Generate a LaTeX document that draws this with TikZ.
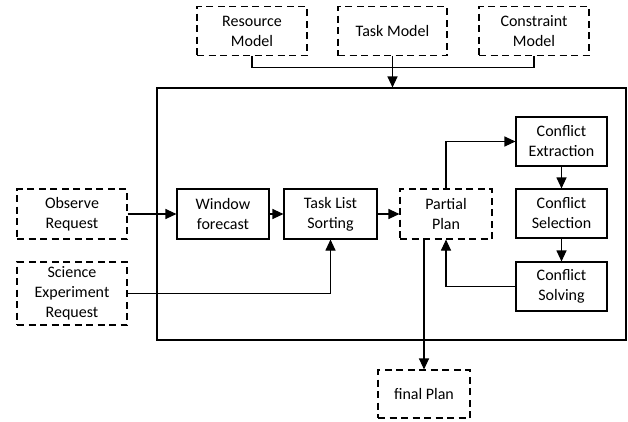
\documentclass[tikz,border=0pt]{standalone}
\usepackage{fontspec}
\setmainfont{Carlito}
\usetikzlibrary{arrows.meta}
\tikzset{
  box/.style={draw, line width=1.1pt, align=center, inner sep=0pt, font=\fontsize{16}{20}\selectfont},
  dbox/.style={box, dash pattern=on 7pt off 4.5pt},
  conn/.style={line width=1.1pt, -{Triangle[length=11pt,width=10pt]}},
  plain/.style={line width=1.1pt}
}
\begin{document}
\begin{tikzpicture}[x=1pt,y=-1pt]
\useasboundingbox (0,0) rectangle (628,421);
% outer frame
\node[draw, line width=1.1pt, minimum width=469pt, minimum height=252pt, inner sep=0pt] (big) at (391.5,214) {};
% models
\node[dbox, minimum width=110pt, minimum height=49pt] (rm) at (252,31) {Resource\\Model};
\node[dbox, minimum width=109pt, minimum height=49pt] (tm) at (392.5,31) {Task Model};
\node[dbox, minimum width=110pt, minimum height=49pt] (cm) at (534,31) {Constraint\\Model};
% requests
\node[dbox, minimum width=110pt, minimum height=50pt] (obs) at (72,214) {Observe\\Request};
\node[dbox, minimum width=110pt, minimum height=63pt] (sci) at (72,293.5) {Science\\Experiment\\Request};
% processing
\node[box, minimum width=92pt, minimum height=50pt] (wf) at (223,214) {Window\\forecast};
\node[box, minimum width=93pt, minimum height=50pt] (tls) at (330.5,214) {Task List\\Sorting};
\node[dbox, minimum width=92pt, minimum height=50pt] (pp) at (446,214) {Partial\\Plan};
\node[box, minimum width=91pt, minimum height=49pt] (ce) at (561.5,141.5) {Conflict\\Extraction};
\node[box, minimum width=91pt, minimum height=49pt] (cs) at (561.5,213.5) {Conflict\\Selection};
\node[box, minimum width=91pt, minimum height=49pt] (cso) at (561.5,286.5) {Conflict\\Solving};
\node[dbox, minimum width=92pt, minimum height=48pt] (fp) at (424,394) {final Plan};
% connectors
\draw[plain] (rm.south) -- ++(0,11) -| (cm.south);
\draw[conn] (tm.south) -- (tm.south |- big.north);
\draw[conn] (obs.east) -- (wf.west);
\draw[conn] (wf.east) -- (tls.west);
\draw[conn] (sci.east) -| (tls.south);
\draw[conn] (tls.east) -- (pp.west);
\draw[conn] (pp.north) |- (ce.west);
\draw[conn] (ce.south) -- (cs.north);
\draw[conn] (cs.south) -- (cso.north);
\draw[conn] (cso.west) -| (pp.south);
\draw[conn] (fp.north |- pp.south) -- (fp.north);
\end{tikzpicture}
\end{document}
